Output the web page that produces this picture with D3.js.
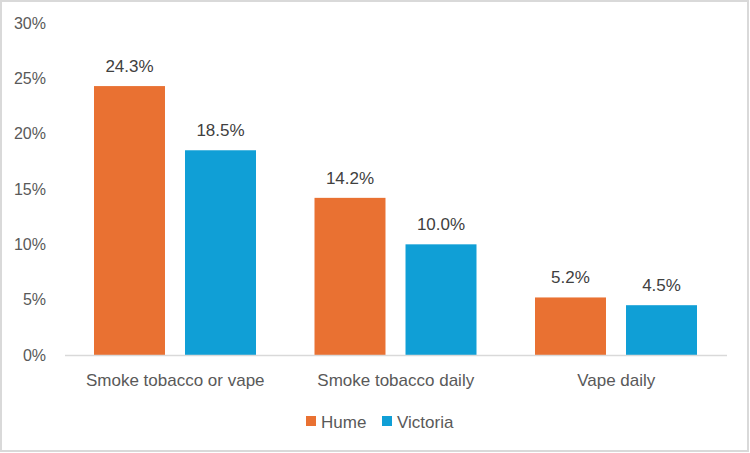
<!DOCTYPE html>
<html><head><meta charset="utf-8">
<script src="https://cdn.jsdelivr.net/npm/d3@7"></script>
<style>body{margin:0;background:#fff}svg{display:block}</style>
</head><body>
<svg id="c" width="750" height="453"></svg>
<script>
const categories = ["Smoke tobacco or vape", "Smoke tobacco daily", "Vape daily"];
const seriesNames = ["Hume", "Victoria"];
const hume = [24.3, 14.2, 5.2];
const victoria = [18.5, 10.0, 4.5];
const yTicks = [0, 5, 10, 15, 20, 25, 30];
const colors = ["#E97132", "#109FD6"];

const svg = d3.select("#c");
const font = "'Liberation Sans', Arial, sans-serif";
const textColor = "#595959";

svg.append("rect").attr("x",1).attr("y",1).attr("width",747).attr("height",450)
  .attr("fill","#fff").attr("stroke","#d9d9d9").attr("stroke-width",2);

const y = d3.scaleLinear().domain([0,30]).range([355,23]);
const x0 = d3.scaleBand().domain(categories).range([65,726.5]).padding(0);
const x1 = d3.scaleBand().domain(seriesNames).range([29,191]).paddingInner(0.22).paddingOuter(0);

const data = [hume, victoria];

const yAxis = d3.axisLeft(y).tickValues(yTicks).tickFormat(d => d + "%").tickSize(0).tickPadding(0);
const ga = svg.append("g").attr("transform","translate(46,0)").call(yAxis);
ga.select(".domain").remove();
ga.selectAll("text").attr("font-family",font).attr("font-size",16).attr("fill",textColor);

const groups = svg.append("g").selectAll("g").data(categories).join("g")
  .attr("transform", d => `translate(${x0(d)},0)`);

groups.each(function(cat, ci) {
  const g = d3.select(this);
  seriesNames.forEach((s, si) => {
    const v = data[si][ci];
    g.append("rect").attr("x", x1(s)).attr("width", x1.bandwidth())
      .attr("y", y(v)).attr("height", y(0) - y(v)).attr("fill", colors[si]);
    g.append("text").attr("x", x1(s) + x1.bandwidth()/2).attr("y", y(v) - 14)
      .attr("text-anchor","middle").attr("font-family",font).attr("font-size",17)
      .attr("fill","#404040").text(v.toFixed(1) + "%");
  });
});

svg.append("line").attr("x1",65).attr("x2",727).attr("y1",355.5).attr("y2",355.5)
  .attr("stroke","#d9d9d9").attr("stroke-width",1.5);

const xAxis = d3.axisBottom(x0).tickSize(0).tickPadding(0);
const gx = svg.append("g").attr("transform","translate(0,386)").call(xAxis);
gx.select(".domain").remove();
gx.selectAll("text").attr("font-family",font).attr("font-size",17).attr("fill",textColor).attr("dy","0");

const legend = svg.append("g");
const legX = [306, 382];
seriesNames.forEach((s, i) => {
  legend.append("rect").attr("x", legX[i]).attr("y", 416).attr("width", 10).attr("height", 10).attr("fill", colors[i]);
  legend.append("text").attr("x", legX[i] + 15).attr("y", 427.5).attr("font-family",font)
    .attr("font-size",17).attr("fill",textColor).text(s);
});
</script>
</body></html>
